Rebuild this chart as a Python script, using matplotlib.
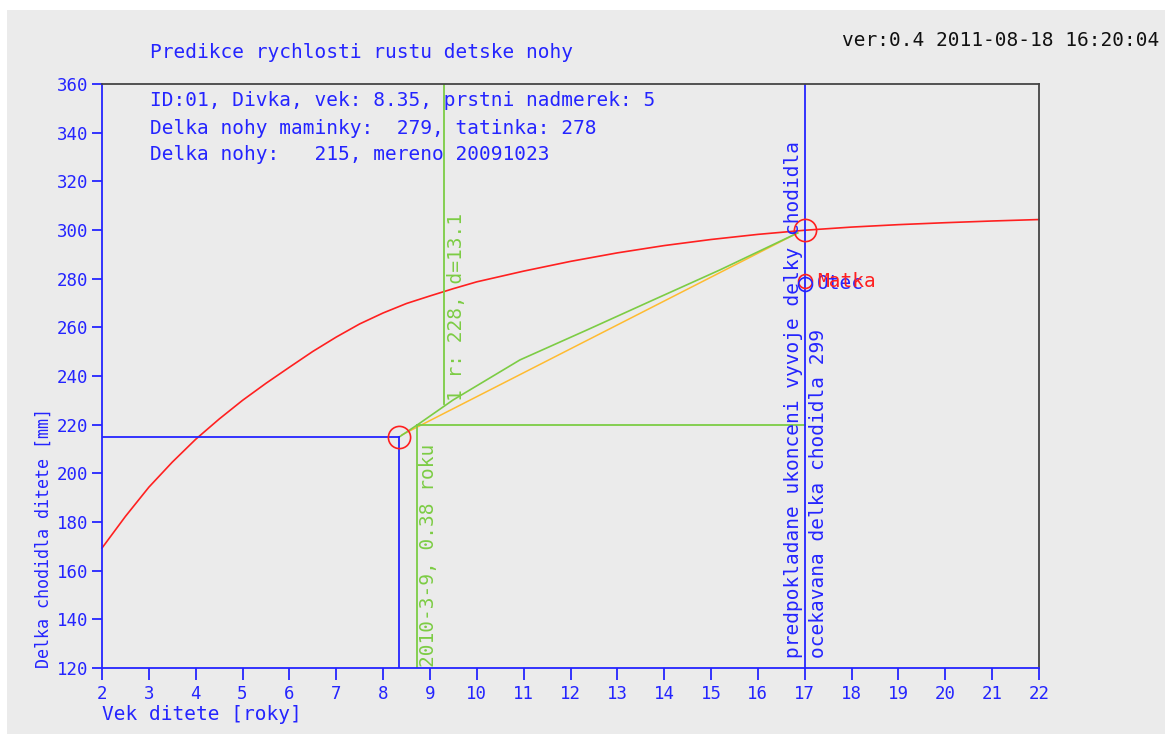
import matplotlib
matplotlib.use("Agg")
import matplotlib.pyplot as plt
from matplotlib.patches import Rectangle

# barvy
modra = "#2424ff"
cervena = "#ff2020"
zelena = "#7ccc44"
oranzova = "#ffbb30"
seda = "#ebebeb"

# krivka predikce (vek -> delka chodidla)
vek_krivka = [2.0, 2.5, 3.0, 3.5, 4.0, 4.5, 5.0, 5.5, 6.0, 6.5, 7.0, 7.5, 8.0, 8.5, 9.0,
              9.5, 10, 11, 12, 13, 14, 15, 16, 17, 18, 19, 20, 21, 22]
delka_krivka = [169.3, 182.3, 194.3, 204.6, 214.0, 222.3, 230.0, 237.0, 243.6, 250.1, 256.0,
                261.4, 265.9, 269.8, 272.9, 275.9, 278.7, 283.1, 287.1, 290.6, 293.6, 296.1,
                298.2, 299.9, 301.2, 302.2, 303.0, 303.7, 304.3]

# zelena krivka rustu
vek_zelena = [8.35, 8.79, 9.49, 10.92, 12.35, 13.76, 15.19, 16.62, 16.85]
delka_zelena = [215.0, 220.7, 230.1, 246.6, 258.9, 271.2, 283.6, 296.7, 298.8]

# oranzova primka
vek_oranz = [8.4, 16.85]
delka_oranz = [215.8, 298.8]

# mereni a rodice
vek_mereni = 8.35
delka_mereni = 215
vek_konec = 17
delka_konec = 299.9
delka_matka = 279
delka_otec = 278
vek_zmena = 8.73
delka_zmena = 220
vek_r = 9.3
delka_r = 228.5

xticks = list(range(2, 23))
yticks = list(range(120, 361, 20))

plt.rcParams["font.family"] = ["DejaVu Sans Mono"]

fig = plt.figure(figsize=(11.65, 7.34), dpi=100, facecolor="white")
fig.patches.append(Rectangle((7 / 1165, 0), 1, 724 / 734, transform=fig.transFigure,
                             facecolor=seda, edgecolor="none", zorder=-10))
ax = fig.add_axes([102 / 1165, 66 / 734, 937 / 1165, 584 / 734])
ax.set_facecolor(seda)

ax.plot(vek_krivka, delka_krivka, color=cervena, lw=1.2, clip_on=False)
ax.plot(vek_oranz, delka_oranz, color=oranzova, lw=1.1)
ax.plot(vek_zelena, delka_zelena, color=zelena, lw=1.2)

# mereni
ax.plot([2, vek_mereni], [delka_mereni, delka_mereni], color=modra, lw=1.3)
ax.plot([vek_mereni, vek_mereni], [120, delka_mereni], color=modra, lw=1.3)
ax.plot(vek_mereni, delka_mereni, "o", ms=16, mfc="none", mec=cervena, mew=1.2)

# zelene pomocne cary
ax.plot([vek_zmena, vek_zmena], [120, delka_zmena], color=zelena, lw=1.3)
ax.plot([vek_zmena, vek_konec], [delka_zmena, delka_zmena], color=zelena, lw=1.3)
ax.plot([vek_r, vek_r], [delka_r, 360], color=zelena, lw=1.3)

# konec rustu
ax.axvline(vek_konec, color=modra, lw=1.3)
ax.plot(vek_konec, delka_konec, "o", ms=16, mfc="none", mec=cervena, mew=1.2)
ax.plot(vek_konec, delka_matka, "o", ms=10, mfc="none", mec=cervena, mew=1.2)
ax.plot(vek_konec, delka_otec, "o", ms=10, mfc="none", mec=modra, mew=1.2)
ax.annotate("Otec", (vek_konec, delka_otec), xytext=(9, 0), textcoords="offset points",
            color=modra, fontsize=14, va="center")
ax.annotate("Matka", (vek_konec, delka_matka), xytext=(9, 0), textcoords="offset points",
            color=cervena, fontsize=14, va="center")

# svisle popisky
ax.annotate("2010-3-9, 0.38 roku", (vek_zmena, 120), xytext=(1, 1), textcoords="offset points",
            rotation=90, ha="left", va="bottom", color=zelena, fontsize=14)
ax.annotate("1 r: 228, d=13.1", (vek_r, delka_r), xytext=(2, 2), textcoords="offset points",
            rotation=90, ha="left", va="bottom", color=zelena, fontsize=14)
ax.annotate("predpokladane ukonceni vyvoje delky chodidla", (vek_konec, 120), xytext=(-1, 7),
            textcoords="offset points", rotation=90, ha="right", va="bottom", color=modra, fontsize=14)
ax.annotate("ocekavana delka chodidla 299", (vek_konec, 120), xytext=(3, 7),
            textcoords="offset points", rotation=90, ha="left", va="bottom", color=modra, fontsize=14)

ax.set_xlim(2, 22)
ax.set_ylim(120, 360)
ax.set_xticks(xticks)
ax.set_yticks(yticks)
ax.tick_params(axis="x", direction="out", length=8.5, width=1.3, colors=modra, labelsize=12.5, pad=4)
ax.tick_params(axis="y", direction="out", length=7, width=1.3, colors=modra, labelsize=12.5, pad=3)
for s in ["left", "bottom"]:
    ax.spines[s].set_color(modra)
    ax.spines[s].set_linewidth(1.3)
for s in ["top", "right"]:
    ax.spines[s].set_color("#444444")
    ax.spines[s].set_linewidth(1.3)

ax.set_xlabel("Vek ditete [roky]", color=modra, fontsize=14, loc="left", labelpad=1)
ax.set_ylabel("Delka chodidla ditete [mm]", color=modra, fontsize=12, loc="bottom", labelpad=3)

fig.text(150 / 1165, 1 - 52 / 734, "Predikce rychlosti rustu detske nohy", color=modra,
         fontsize=14, va="center")
fig.text(1159 / 1165, 1 - 40 / 734, "ver:0.4 2011-08-18 16:20:04", color="#111111",
         fontsize=14, va="center", ha="right")
info = ["ID:01, Divka, vek: 8.35, prstni nadmerek: 5",
        "Delka nohy maminky:  279, tatinka: 278",
        "Delka nohy:   215, mereno 20091023"]
for i, radek in enumerate(info):
    fig.text(150 / 1165, 1 - (101 + 27 * i) / 734, radek, color=modra, fontsize=14, va="center")

fig.savefig("out.png", dpi=100, facecolor="white")
